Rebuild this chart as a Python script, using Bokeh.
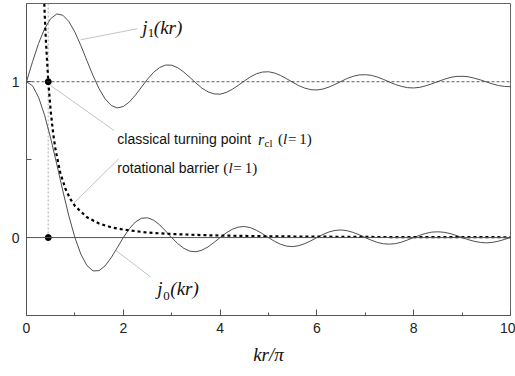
from bokeh.plotting import figure
from bokeh.models import Range1d, FixedTicker, Label, Span
from bokeh.embed import file_html
from bokeh.resources import INLINE

# ---- data ----
kr_pi = [i * 0.125 for i in range(81)]

j0_vals = [1.000, 0.974, 0.900, 0.784, 0.637, 0.471, 0.300, 0.139, 0.000, -0.108,
           -0.180, -0.214, -0.212, -0.181, -0.129, -0.065, 0.000, 0.057, 0.100, 0.124,
           0.127, 0.112, 0.082, 0.042, 0.000, -0.039, -0.069, -0.087, -0.091, -0.081,
           -0.060, -0.031, 0.000, 0.030, 0.053, 0.067, 0.071, 0.064, 0.047, 0.025,
           0.000, -0.024, -0.043, -0.055, -0.058, -0.052, -0.039, -0.021, 0.000, 0.020,
           0.036, 0.046, 0.049, 0.044, 0.033, 0.018, 0.000, -0.017, -0.031, -0.040,
           -0.042, -0.039, -0.029, -0.015, 0.000, 0.015, 0.027, 0.035, 0.037, 0.034,
           0.026, 0.014, 0.000, -0.013, -0.024, -0.031, -0.034, -0.031, -0.023, -0.012,
           0.000]

j1_shifted = [1.000, 1.129, 1.246, 1.341, 1.405, 1.435, 1.427, 1.387, 1.318, 1.231,
              1.134, 1.039, 0.955, 0.890, 0.848, 0.832, 0.841, 0.870, 0.914, 0.965,
              1.016, 1.060, 1.091, 1.107, 1.106, 1.090, 1.062, 1.028, 0.992, 0.959,
              0.935, 0.922, 0.920, 0.931, 0.951, 0.977, 1.005, 1.031, 1.051, 1.062,
              1.064, 1.056, 1.040, 1.019, 0.997, 0.975, 0.959, 0.949, 0.947, 0.953,
              0.966, 0.983, 1.002, 1.021, 1.035, 1.044, 1.045, 1.041, 1.030, 1.015,
              0.998, 0.982, 0.970, 0.962, 0.960, 0.964, 0.974, 0.987, 1.001, 1.015,
              1.027, 1.034, 1.035, 1.032, 1.023, 1.012, 0.999, 0.986, 0.976, 0.970,
              0.968]

barrier_x = [0.35, 0.375, 0.4, 0.45, 0.5, 0.55, 0.6, 0.7, 0.8, 0.9, 1.0, 1.25, 1.5,
             1.75, 2.0, 2.5, 3.0, 3.5, 4.0, 5.0, 6.0, 7.0, 8.0, 9.0, 10.0]
barrier_y = [1.654, 1.441, 1.267, 1.001, 0.811, 0.670, 0.563, 0.414, 0.317, 0.250,
             0.203, 0.130, 0.090, 0.066, 0.051, 0.032, 0.023, 0.017, 0.013, 0.008,
             0.006, 0.004, 0.003, 0.003, 0.002]

r_cl = [0.45, 0.45]
r_cl_y = [1.0, 0.0]

x_ticks = [0, 2, 4, 6, 8, 10]
x_minor = [1, 3, 5, 7, 9]
y_ticks = [0, 0.5, 1]
y_tick_labels = {0: "0", 0.5: "", 1: "1"}

Y_TOP = 1.502

p = figure(width=515, height=376, x_range=Range1d(0, 10), y_range=Range1d(-0.5, Y_TOP),
           output_backend="svg", toolbar_location=None,
           min_border_left=26, min_border_right=5, min_border_top=3, min_border_bottom=61)
p.xgrid.visible = False
p.ygrid.visible = False
p.outline_line_color = "#666666"
p.outline_line_width = 1
p.background_fill_color = "white"
p.border_fill_color = "white"

for ax in (p.xaxis[0], p.yaxis[0]):
    ax.axis_line_color = "#555555"
    ax.major_tick_line_color = "#555555"
    ax.minor_tick_line_color = "#555555"
    ax.major_tick_out = 0
    ax.major_tick_in = 6
    ax.minor_tick_out = 0
    ax.minor_tick_in = 3
    ax.major_label_text_font = "Liberation Sans"
    ax.major_label_text_font_size = "14px"
    ax.major_label_text_color = "#222222"
    ax.major_label_standoff = 7

p.xaxis.ticker = FixedTicker(ticks=x_ticks, minor_ticks=x_minor)
p.yaxis.ticker = FixedTicker(ticks=y_ticks, minor_ticks=[])
p.yaxis.major_label_overrides = y_tick_labels
p.yaxis.major_tick_in = 5
p.xaxis.axis_label = "kr/π"
p.xaxis.axis_label_text_font = "Liberation Serif"
p.xaxis.axis_label_text_font_style = "italic"
p.xaxis.axis_label_text_font_size = "19px"
p.xaxis.axis_label_text_color = "#111111"
p.xaxis.axis_label_standoff = 8

# reference lines
p.add_layout(Span(location=0, dimension="width", line_color="#555555", line_width=1))
p.add_layout(Span(location=1, dimension="width", line_color="#333333", line_width=0.8,
                  line_dash="3 2"))
p.segment(x0=r_cl[:1], y0=[0], x1=r_cl[:1], y1=[Y_TOP], line_color="#c8c8c8",
          line_width=1.5, line_dash="2 2")

# curves
p.line(kr_pi, j0_vals, line_color="#3a3a3a", line_width=0.9)
p.line(kr_pi, j1_shifted, line_color="#3a3a3a", line_width=0.9)
p.line(barrier_x, barrier_y, line_color="black", line_width=2.2, line_dash="3 3")
p.scatter(r_cl, r_cl_y, size=6, color="black")

# leader lines
lead = "#c4c4c4"
p.segment(x0=[1.117, 0.496, 0.979, 1.841], y0=[1.269, 0.976, 0.222, -0.081],
          x1=[2.289, 1.806, 1.909, 2.565], y1=[1.340, 0.688, 0.506, -0.253],
          line_color=lead, line_width=1)

SERIF = "Liberation Serif"
SANS = "Liberation Sans"


def lab(x, y, text, font, size, style="normal", dx=0, dy=0):
    p.add_layout(Label(x=x, y=y, x_offset=dx, y_offset=dy, text=text, text_font=font,
                       text_font_size=size, text_font_style=style,
                       text_baseline="alphabetic", text_align="left",
                       text_color="#111111"))


# j1(kr)
lab(2.393, 1.350, "j", SERIF, "19px", "italic")
lab(2.393, 1.350, "1", SERIF, "13px", "normal", dx=5.5, dy=-6)
lab(2.393, 1.350, "(kr)", SERIF, "19px", "italic", dx=11.5)

# j0(kr)
lab(2.703, -0.328, "j", SERIF, "19px", "italic")
lab(2.703, -0.328, "0", SERIF, "13px", "normal", dx=5.8, dy=-7)
lab(2.703, -0.328, "(kr)", SERIF, "19px", "italic", dx=13)

# classical turning point r_cl (l = 1)
lab(1.876, 0.630, "classical turning point", SANS, "14px")
lab(1.876, 0.630, "r", SERIF, "16px", "italic", dx=140.6)
lab(1.876, 0.630, "cl", SERIF, "11px", "normal", dx=147.3, dy=-4)
lab(1.876, 0.630, "(", SERIF, "15px", "normal", dx=160.6)
lab(1.876, 0.630, "l", SERIF, "15px", "italic", dx=165.8)
lab(1.876, 0.630, "=\u20091)", SERIF, "15px", "normal", dx=170.6)

# rotational barrier (l = 1)
lab(1.876, 0.446, "rotational barrier", SANS, "14px")
lab(1.876, 0.446, "(", SERIF, "15px", "normal", dx=106)
lab(1.876, 0.446, "l", SERIF, "15px", "italic", dx=111.2)
lab(1.876, 0.446, "=\u20091)", SERIF, "15px", "normal", dx=116)

open("out.html", "w").write(file_html(p, INLINE))
